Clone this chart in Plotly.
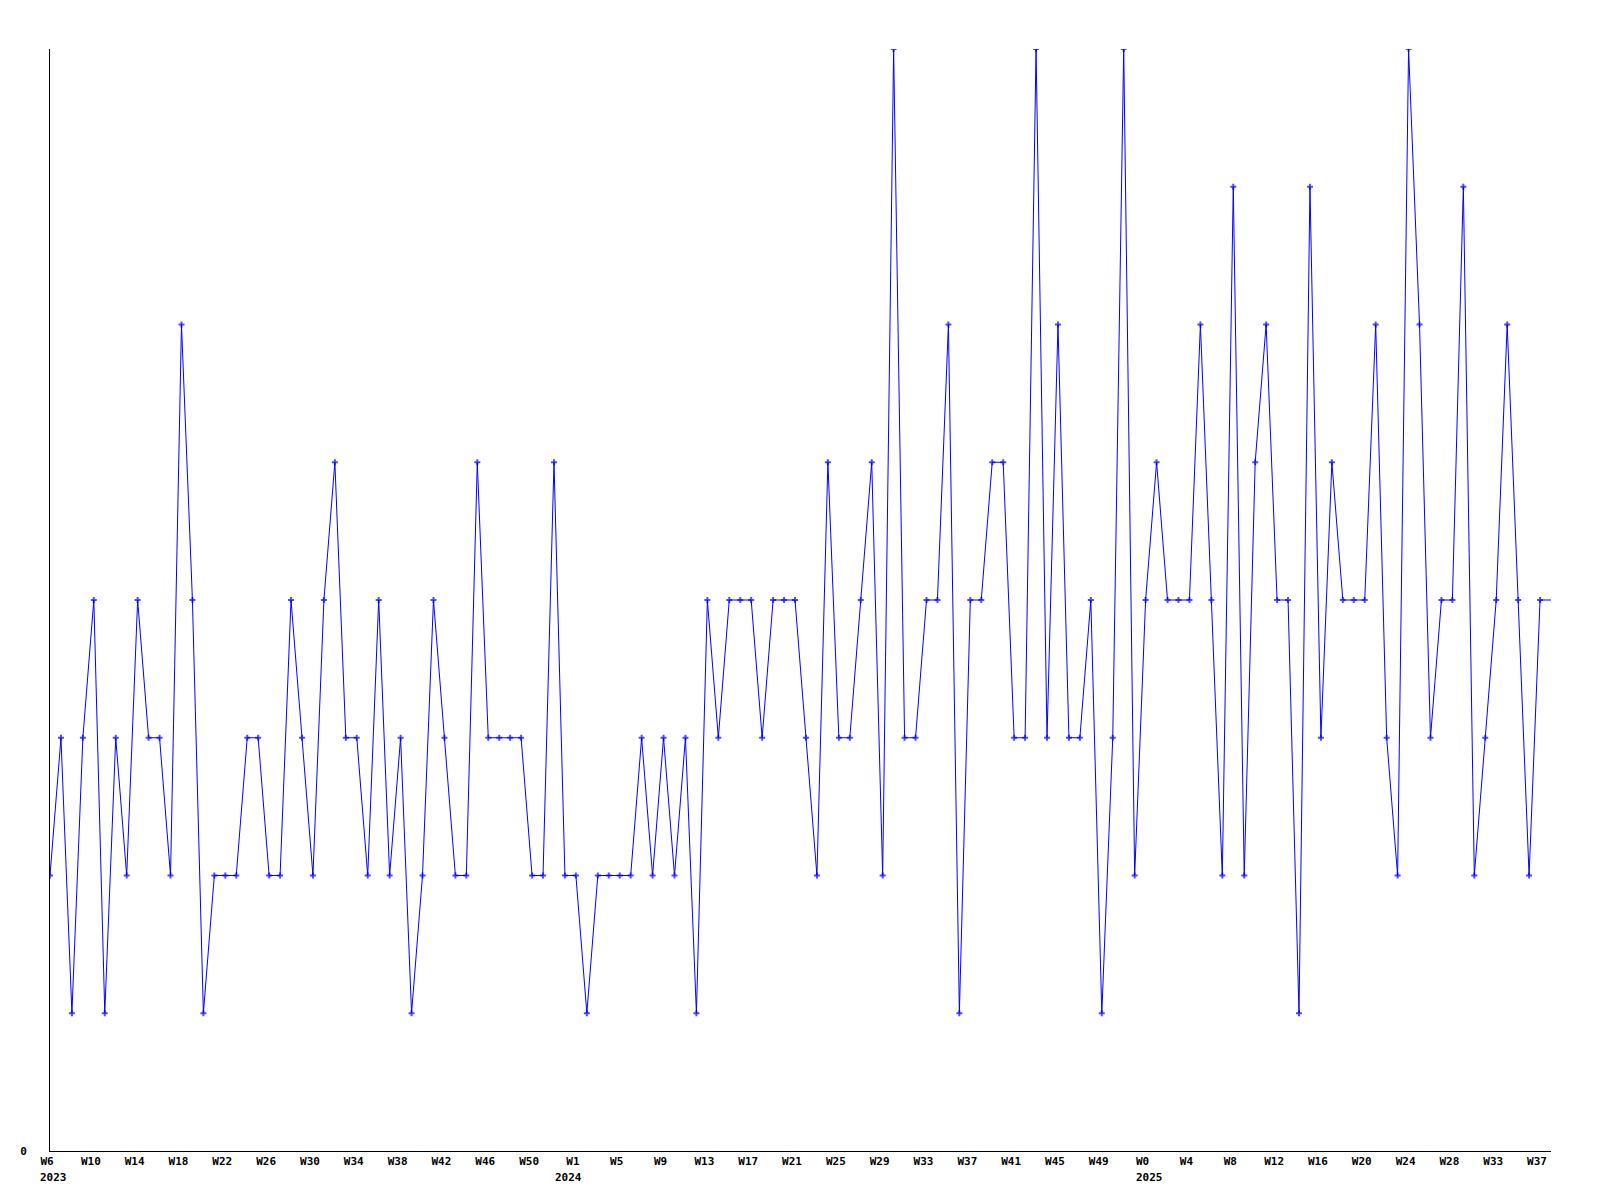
import plotly.graph_objects as go

# Week numbers present in the data (weeks with no events are absent)
weeks_2023 = list(range(6, 54))
weeks_2024 = list(range(1, 53))
weeks_2025 = list(range(0, 30)) + [31, 32] + list(range(33, 39))

values = [2, 3, 1, 3, 4, 1, 3, 2, 4, 3,
          3, 2, 6, 4, 1, 2, 2, 2, 3, 3,
          2, 2, 4, 3, 2, 4, 5, 3, 3, 2,
          4, 2, 3, 1, 2, 4, 3, 2, 2, 5,
          3, 3, 3, 3, 2, 2, 5, 2, 2, 1,
          2, 2, 2, 2, 3, 2, 3, 2, 3, 1,
          4, 3, 4, 4, 4, 3, 4, 4, 4, 3,
          2, 5, 3, 3, 4, 5, 2, 8, 3, 3,
          4, 4, 6, 1, 4, 4, 5, 5, 3, 3,
          8, 3, 6, 3, 3, 4, 1, 3, 8, 2,
          4, 5, 4, 4, 4, 6, 4, 2, 7, 2,
          5, 6, 4, 4, 1, 7, 3, 5, 4, 4,
          4, 6, 3, 2, 8, 6, 3, 4, 4, 7,
          2, 3, 4, 6, 4, 2, 4, 4]

tick_labels = ["W6", "W10", "W14", "W18", "W22", "W26", "W30", "W34", "W38",
               "W42", "W46", "W50",
               "W1", "W5", "W9", "W13", "W17", "W21", "W25", "W29", "W33",
               "W37", "W41", "W45", "W49",
               "W0", "W4", "W8", "W12", "W16", "W20", "W24", "W28", "W33", "W37"]

year_labels = ["2023", "2024", "2025"]
# category at which each year label is placed
year_positions = ["2023-W06", "2023-W53", "2025-W00"]

categories = ([f"2023-W{w:02d}" for w in weeks_2023]
              + [f"2024-W{w:02d}" for w in weeks_2024]
              + [f"2025-W{w:02d}" for w in weeks_2025])

FONT = dict(family="DejaVu Sans Mono", size=11, color="black")

marker_sizes = [5] * (len(values) - 1) + [0]

fig = go.Figure()
fig.add_trace(go.Scatter(
    x=categories, y=values, mode="lines+markers",
    line=dict(color="#0000FF", width=1),
    marker=dict(symbol="cross", size=marker_sizes, color="#0000FF",
                line=dict(width=0)),
    showlegend=False, hoverinfo="x+y"))

for yl, cat in zip(year_labels, year_positions):
    fig.add_annotation(x=cat, xref="x", y=0, yref="paper", text="<b>" + yl + "</b>",
                       showarrow=False, xanchor="left", yanchor="top",
                       xshift=-12, yshift=-18, font=FONT)

fig.update_layout(
    width=1600, height=1200,
    margin=dict(l=50, r=49, t=49, b=49),
    paper_bgcolor="white", plot_bgcolor="white",
    font=FONT,
    xaxis=dict(type="category", categoryorder="array", categoryarray=categories,
               range=[0, len(categories) - 1],
               tickmode="array", tickvals=categories[::4],
               ticktext=["<b>" + t + "</b>" for t in tick_labels],
               showgrid=False, zeroline=False, showline=True,
               linecolor="black", linewidth=1, ticks="",
               tickangle=0, ticklabelshift=-3, ticklabelstandoff=0,
               tickfont=FONT),
    yaxis=dict(range=[0, 8], tickmode="array", tickvals=[0],
               ticktext=["<b>0</b>"],
               showgrid=False, zeroline=False, showline=True,
               linecolor="black", linewidth=1, ticks="",
               ticklabelstandoff=20, tickfont=FONT),
)

fig.write_html("out.html", config={"displayModeBar": False},
               post_script="document.body.style.margin='0';")
